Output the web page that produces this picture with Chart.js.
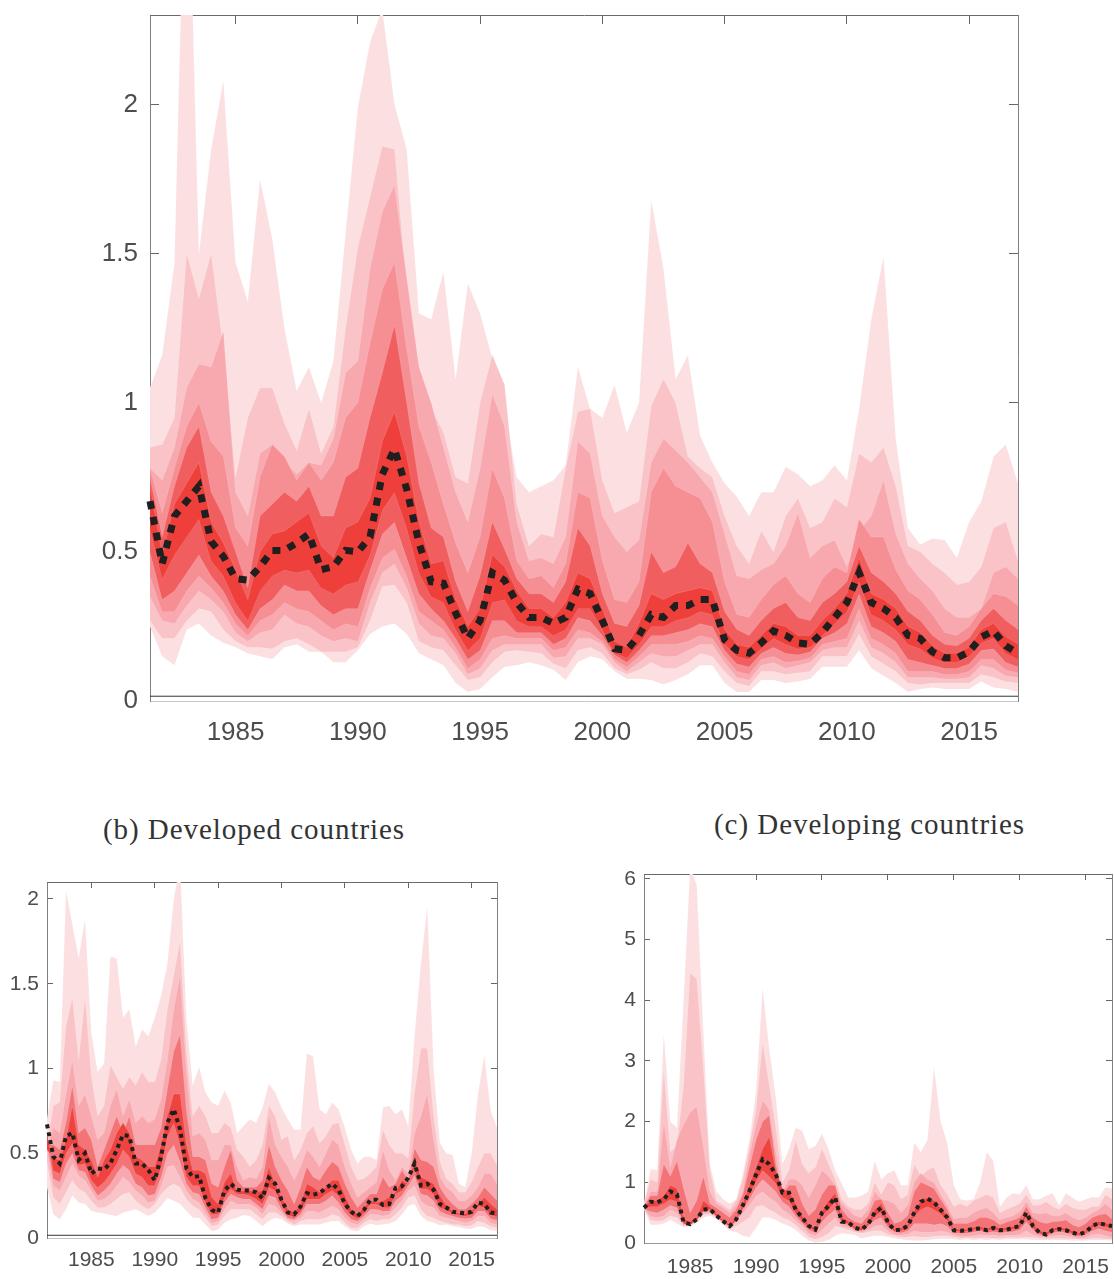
<!DOCTYPE html>
<html>
<head>
<meta charset="utf-8">
<title>Fan charts</title>
<script src="https://cdn.jsdelivr.net/npm/chart.js@4"></script>
<style>
  html, body { margin: 0; background: #fff; overflow: hidden; }
  canvas { position: absolute; }
  .caption { position: absolute; font-family: "Liberation Serif", serif; font-size: 29px; color: #333; letter-spacing: 0.95px; white-space: nowrap; }
</style>
</head>
<body>
<canvas id="mainChart" width="1114" height="770" style="left:0;top:0"></canvas>
<div class="caption" style="left:103px;top:813px">(b) Developed countries</div>
<div class="caption" style="left:714px;top:808px">(c) Developing countries</div>
<canvas id="developedChart" width="520" height="409" style="left:0;top:870px"></canvas>
<canvas id="developingChart" width="504" height="419" style="left:610px;top:860px"></canvas>
<script>
const years = [1981.5,1982,1982.5,1983,1983.5,1984,1984.5,1985,1985.5,1986,1986.5,1987,1987.5,1988,1988.5,1989,1989.5,1990,1990.5,1991,1991.5,1992,1992.5,1993,1993.5,1994,1994.5,1995,1995.5,1996,1996.5,1997,1997.5,1998,1998.5,1999,1999.5,2000,2000.5,2001,2001.5,2002,2002.5,2003,2003.5,2004,2004.5,2005,2005.5,2006,2006.5,2007,2007.5,2008,2008.5,2009,2009.5,2010,2010.5,2011,2011.5,2012,2012.5,2013,2013.5,2014,2014.5,2015,2015.5,2016,2016.5,2017];
const yearTicks = [1985,1990,1995,2000,2005,2010,2015];
const mainTicks = [0,0.5,1,1.5,2];
const developedTicks = [0,0.5,1,1.5,2];
const developingTicks = [0,1,2,3,4,5,6];

// panel (a)
const mainMedian = [.67,.46,.62,.67,.72,.535,.485,.41,.405,.45,.505,.505,.53,.56,.44,.45,.505,.50,.55,.76,.845,.71,.53,.40,.395,.295,.21,.27,.43,.405,.33,.28,.28,.26,.28,.375,.36,.27,.175,.17,.22,.29,.28,.32,.32,.34,.34,.205,.17,.16,.195,.235,.22,.195,.19,.23,.28,.33,.43,.33,.31,.28,.22,.21,.165,.145,.145,.165,.215,.235,.185,.16];
const mainU1 = [1.05,1.16,1.47,3.1,1.5,1.85,2.08,1.47,1.34,1.75,1.55,1.25,1.04,1.12,1.00,1.14,1.57,1.99,2.21,2.32,2.0,1.85,1.30,1.28,1.44,1.08,1.40,1.30,1.15,.98,.75,.70,.72,.74,.79,1.12,.98,.95,1.06,.90,1.0,1.68,1.45,1.08,1.16,.89,.80,.73,.685,.62,.70,.70,.785,.76,.72,.74,.79,.74,.98,1.28,1.49,.88,.58,.525,.545,.54,.48,.60,.67,.82,.86,.73];
const mainU2 = [.85,.86,.95,1.5,1.35,1.50,1.18,.75,.95,1.05,1.05,.93,.84,.98,.83,.92,1.25,1.52,1.69,1.86,1.85,1.38,1.12,.98,.90,.75,.73,1.0,1.16,1.06,.66,.52,.56,.55,.78,.97,.98,.74,.63,.65,.67,.99,1.08,1.0,.82,.78,.75,.62,.52,.46,.57,.5,.62,.68,.58,.6,.68,.65,.83,.8,.85,.72,.52,.50,.46,.43,.39,.40,.45,.58,.60,.47];
const mainU3 = [.78,.74,.85,1.05,1.13,1.12,1.24,.7,.62,.83,.86,.8,.76,.80,.79,.88,1.1,1.14,1.45,1.64,1.73,1.42,1.12,1.0,.85,.7,.6,.78,1.03,.92,.60,.47,.48,.46,.55,.87,.83,.62,.55,.50,.54,.80,.88,.84,.80,.75,.70,.56,.42,.41,.44,.46,.52,.63,.48,.52,.54,.45,.57,.62,.74,.56,.46,.41,.37,.31,.28,.28,.31,.43,.45,.41];
const mainU4 = [.78,.63,.78,.92,1.0,.87,.82,.58,.52,.75,.86,.82,.74,.80,.74,.8,.95,1.0,1.2,1.38,1.47,1.18,.92,.8,.66,.53,.43,.55,.78,.68,.47,.41,.42,.38,.46,.70,.68,.47,.34,.33,.40,.70,.78,.72,.70,.68,.60,.40,.29,.28,.34,.39,.42,.36,.33,.41,.45,.43,.61,.55,.55,.44,.37,.34,.29,.23,.22,.25,.31,.36,.35,.32];
const mainU5 = [.75,.55,.72,.85,.92,.70,.62,.50,.38,.62,.66,.70,.67,.72,.62,.62,.75,.78,.95,1.10,1.26,1.0,.73,.58,.55,.40,.30,.42,.60,.51,.41,.36,.36,.33,.40,.58,.52,.36,.26,.25,.32,.50,.43,.45,.53,.46,.43,.30,.24,.22,.27,.31,.33,.28,.27,.33,.36,.40,.52,.43,.40,.36,.30,.27,.22,.19,.185,.21,.27,.31,.27,.24];
const mainU6 = [.72,.49,.66,.73,.80,.60,.53,.44,.34,.50,.56,.57,.60,.63,.52,.48,.58,.60,.68,.87,.97,.82,.60,.46,.47,.34,.25,.31,.49,.45,.37,.31,.31,.28,.33,.43,.41,.31,.20,.18,.26,.36,.34,.36,.37,.38,.37,.24,.19,.18,.22,.26,.25,.22,.22,.27,.31,.36,.48,.36,.34,.31,.25,.23,.185,.16,.16,.18,.24,.26,.215,.19];
const mainL6 = [.58,.41,.49,.55,.61,.47,.42,.33,.27,.37,.42,.44,.43,.44,.38,.36,.39,.40,.49,.64,.70,.58,.43,.35,.33,.24,.17,.21,.33,.34,.27,.25,.25,.22,.24,.31,.31,.24,.16,.145,.19,.25,.25,.27,.28,.30,.29,.19,.15,.14,.175,.21,.19,.175,.18,.22,.26,.30,.40,.29,.27,.24,.19,.175,.145,.13,.13,.15,.195,.21,.16,.14];
const mainL5 = [.50,.34,.37,.43,.49,.42,.37,.29,.24,.31,.34,.39,.37,.37,.32,.29,.31,.31,.44,.56,.60,.48,.36,.31,.27,.21,.14,.17,.27,.27,.23,.23,.23,.19,.21,.28,.27,.22,.155,.13,.17,.22,.22,.23,.24,.26,.25,.17,.125,.115,.16,.18,.16,.155,.165,.21,.23,.26,.36,.25,.23,.20,.14,.13,.12,.11,.11,.125,.17,.175,.13,.115];
const mainL4 = [.42,.3,.3,.37,.42,.38,.33,.26,.22,.27,.29,.33,.31,.30,.27,.24,.26,.25,.38,.48,.51,.42,.30,.27,.24,.18,.11,.14,.21,.22,.21,.21,.21,.17,.18,.24,.23,.20,.14,.115,.15,.19,.19,.19,.20,.22,.21,.15,.10,.09,.14,.15,.13,.135,.145,.19,.2,.21,.31,.21,.19,.16,.10,.10,.10,.09,.09,.10,.14,.14,.105,.095];
const mainL3 = [.35,.27,.26,.32,.37,.34,.30,.23,.2,.23,.24,.29,.26,.25,.22,.2,.21,.2,.33,.43,.46,.38,.26,.22,.21,.16,.09,.11,.17,.19,.19,.19,.19,.145,.15,.21,.21,.19,.13,.10,.13,.16,.15,.15,.17,.19,.19,.13,.08,.07,.12,.13,.11,.12,.13,.17,.18,.18,.27,.18,.16,.13,.08,.08,.08,.075,.075,.08,.12,.11,.085,.08];
const mainL2 = [.27,.21,.21,.27,.31,.30,.24,.20,.18,.18,.175,.2,.21,.19,.165,.165,.165,.18,.27,.385,.39,.33,.2,.18,.17,.12,.07,.08,.13,.165,.17,.165,.16,.125,.11,.17,.18,.16,.11,.09,.105,.13,.11,.11,.13,.16,.15,.10,.06,.05,.10,.10,.09,.095,.10,.15,.15,.15,.225,.15,.125,.10,.06,.055,.06,.06,.06,.06,.09,.08,.065,.06];
const mainL1 = [.25,.15,.12,.24,.26,.22,.195,.18,.16,.15,.14,.18,.19,.165,.165,.13,.13,.17,.225,.25,.26,.225,.16,.14,.12,.06,.03,.04,.08,.115,.12,.13,.12,.105,.07,.13,.15,.14,.10,.075,.075,.07,.055,.07,.09,.12,.12,.06,.03,.03,.07,.07,.06,.065,.075,.115,.115,.115,.17,.11,.085,.06,.03,.04,.045,.04,.04,.04,.065,.045,.04,.03];

// panel (b)
const developedMedian = [.67,.48,.44,.6,.62,.46,.5,.38,.41,.405,.44,.52,.61,.6,.44,.44,.4,.34,.48,.68,.76,.64,.41,.36,.365,.235,.165,.15,.28,.32,.285,.28,.28,.27,.235,.355,.32,.225,.15,.14,.185,.265,.255,.265,.295,.32,.285,.2,.155,.13,.165,.225,.225,.195,.2,.295,.305,.355,.44,.31,.32,.285,.2,.18,.155,.15,.145,.155,.21,.2,.15,.145];
const developedU1 = [.7,.93,.92,2.05,1.85,1.65,1.88,1.21,.98,1.03,1.66,1.65,1.30,1.35,1.13,1.23,1.19,1.30,1.43,1.62,2.0,2.2,1.29,.9,1.01,.86,.80,.78,.87,.80,.62,.66,.70,.68,.77,.91,.86,.77,.7,.64,.64,1.09,1.07,.76,.73,.80,.76,.65,.52,.44,.48,.48,.46,.77,.78,.73,.76,.66,1.2,1.62,1.96,1.0,.56,.5,.49,.32,.30,.5,.85,1.08,.75,.65];
const developedU2 = [.55,.78,.8,1.25,1.42,1.05,1.42,.95,.72,.78,1.02,.95,.88,.95,.9,.98,.92,.92,1.05,1.35,1.55,1.75,1.1,.72,.78,.72,.62,.62,.68,.65,.52,.48,.42,.46,.55,.78,.72,.58,.6,.46,.52,.62,.66,.56,.6,.67,.68,.55,.42,.34,.35,.38,.42,.64,.55,.5,.5,.47,.86,1.12,1.12,.72,.45,.35,.32,.27,.27,.33,.42,.5,.5,.43];
const developedU3 = [.55,.65,.62,.85,1.05,.78,.85,.72,.58,.62,.78,.88,.72,.82,.68,.72,.68,.7,.82,1.05,1.35,1.55,.98,.6,.62,.58,.46,.46,.55,.55,.42,.34,.36,.35,.42,.72,.55,.48,.42,.34,.42,.52,.48,.42,.5,.58,.55,.42,.32,.24,.27,.3,.33,.52,.4,.34,.42,.38,.62,.72,.85,.58,.36,.3,.27,.22,.22,.25,.3,.38,.38,.32];
const developedU4 = [.55,.55,.52,.68,.9,.62,.65,.58,.42,.52,.62,.72,.62,.72,.55,.55,.55,.55,.65,.88,1.1,1.2,.75,.48,.48,.46,.32,.3,.42,.52,.34,.3,.3,.3,.34,.55,.42,.34,.28,.2,.3,.42,.36,.34,.4,.45,.42,.32,.24,.18,.22,.26,.26,.36,.3,.32,.4,.34,.53,.46,.45,.42,.3,.24,.2,.17,.17,.2,.24,.3,.26,.22];
const developedU5 = [.52,.47,.46,.58,.78,.55,.52,.46,.36,.46,.52,.62,.68,.62,.48,.46,.42,.42,.55,.72,.85,.85,.55,.4,.4,.38,.24,.2,.33,.38,.27,.28,.28,.27,.28,.42,.32,.24,.17,.15,.2,.32,.3,.27,.3,.34,.34,.25,.17,.14,.18,.22,.21,.22,.24,.27,.34,.32,.46,.36,.34,.32,.25,.19,.16,.145,.145,.16,.2,.24,.2,.17];
const developedL5 = [.62,.4,.38,.5,.56,.43,.44,.34,.3,.33,.38,.44,.52,.48,.38,.36,.31,.31,.42,.6,.68,.55,.36,.31,.31,.21,.14,.14,.24,.29,.26,.26,.25,.23,.2,.3,.28,.2,.135,.125,.16,.23,.23,.23,.26,.28,.25,.18,.135,.115,.15,.2,.2,.18,.18,.26,.28,.33,.41,.29,.29,.26,.18,.165,.145,.135,.13,.14,.19,.18,.135,.125];
const developedL4 = [.58,.35,.33,.44,.5,.4,.39,.31,.25,.28,.32,.38,.43,.4,.32,.3,.25,.26,.36,.5,.55,.45,.32,.27,.26,.18,.11,.12,.21,.26,.24,.23,.23,.2,.17,.25,.24,.17,.12,.11,.14,.2,.2,.2,.22,.25,.21,.15,.11,.1,.13,.17,.17,.16,.16,.22,.25,.31,.37,.26,.25,.22,.16,.14,.13,.12,.115,.12,.16,.16,.115,.105];
const developedL3 = [.52,.31,.28,.36,.44,.37,.34,.28,.22,.23,.26,.31,.36,.33,.28,.25,.21,.22,.31,.42,.43,.36,.28,.23,.21,.15,.09,.1,.17,.22,.2,.2,.2,.18,.14,.2,.19,.15,.11,.1,.12,.16,.16,.15,.17,.19,.17,.12,.09,.08,.11,.14,.14,.13,.14,.18,.22,.28,.31,.22,.19,.18,.13,.12,.11,.1,.09,.1,.13,.13,.09,.08];
const developedL2 = [.45,.24,.2,.27,.34,.29,.27,.22,.18,.18,.2,.23,.26,.27,.22,.19,.17,.2,.26,.3,.32,.3,.23,.19,.17,.12,.07,.08,.13,.17,.17,.17,.17,.14,.11,.15,.15,.13,.1,.08,.1,.11,.11,.11,.12,.14,.13,.09,.06,.06,.09,.11,.1,.11,.11,.14,.18,.24,.25,.17,.13,.12,.1,.09,.08,.08,.07,.075,.1,.09,.07,.06];
const developedL1 = [.3,.14,.11,.17,.25,.21,.2,.16,.15,.145,.135,.13,.15,.16,.17,.15,.13,.15,.19,.235,.22,.2,.16,.12,.12,.08,.04,.05,.09,.11,.12,.135,.13,.1,.07,.1,.12,.11,.085,.07,.08,.08,.08,.08,.09,.1,.1,.07,.045,.04,.07,.085,.075,.08,.085,.1,.14,.19,.2,.13,.1,.09,.075,.08,.07,.065,.055,.055,.07,.065,.045,.04];

// panel (c)
const developingMedian = [.58,.68,.67,.72,.85,.8,.34,.31,.39,.55,.56,.45,.36,.28,.39,.62,.86,1.13,1.38,1.3,1.13,.83,.83,.55,.42,.28,.22,.5,.61,.75,.35,.34,.25,.22,.31,.5,.58,.34,.21,.22,.28,.5,.68,.73,.67,.55,.42,.21,.2,.21,.23,.24,.21,.25,.21,.22,.25,.28,.5,.28,.17,.14,.21,.23,.21,.17,.14,.18,.28,.33,.3,.28];
const developingU1 = [.65,1.22,1.2,3.46,2.0,1.9,4.0,6.2,5.9,3.5,1.3,.85,.72,.65,.72,1.15,1.7,2.5,4.2,3.2,2.4,1.3,1.55,1.9,1.85,1.55,1.6,1.8,1.55,1.2,.98,.75,.75,.78,.85,1.35,1.05,1.15,1.2,.95,.95,1.65,1.5,1.7,2.9,2.0,1.65,.95,.72,.7,.72,1.0,1.5,1.35,.6,.75,.82,.8,.95,.72,.72,.78,.82,.62,.82,.75,.68,.72,.76,.75,.92,.9];
const developingU2 = [.65,1.05,1.0,2.85,1.5,1.6,2.6,4.45,4.35,2.9,1.2,.7,.62,.55,.7,1.05,1.6,2.2,3.3,2.6,1.9,1.0,1.2,1.7,1.3,1.15,1.25,1.55,1.3,1.05,.72,.6,.55,.55,.65,1.0,.8,1.0,.95,.72,.8,1.3,1.1,1.2,1.25,.95,.8,.6,.65,.6,.7,.75,.8,.75,.5,.55,.6,.65,.8,.62,.62,.68,.6,.55,.65,.58,.55,.55,.6,.6,.8,.72];
const developingU3 = [.62,.85,.85,2.0,1.25,1.7,1.95,2.15,2.25,1.6,.85,.65,.58,.5,.62,.85,1.45,1.95,2.35,2.2,1.5,.85,1.05,1.05,.95,.75,.95,1.2,1.1,.95,.65,.55,.45,.42,.55,.85,.72,.7,.65,.5,.62,1.0,1.15,1.05,1.0,.8,.62,.4,.42,.42,.5,.55,.58,.5,.38,.42,.45,.52,.68,.5,.48,.5,.45,.45,.5,.42,.38,.42,.5,.55,.65,.55];
const developingU4 = [.6,.78,.78,1.3,1.1,1.35,.9,.5,.7,1.1,.65,.58,.5,.42,.55,.8,1.25,1.7,2.0,2.1,1.3,.8,.95,.95,.65,.45,.55,.8,.95,.95,.55,.42,.35,.32,.45,.7,.72,.5,.32,.36,.45,.85,1.0,.95,.9,.72,.55,.32,.32,.32,.36,.42,.42,.38,.3,.34,.38,.42,.6,.42,.35,.32,.35,.36,.38,.3,.26,.32,.42,.46,.48,.4];
const developingU5 = [.59,.7,.7,.78,.95,.9,.4,.35,.42,.7,.6,.48,.38,.3,.42,.65,.95,1.25,1.55,1.75,1.2,.9,.85,.65,.45,.3,.25,.52,.7,.82,.42,.36,.27,.25,.33,.55,.65,.38,.23,.25,.3,.53,.7,.75,.7,.58,.45,.24,.22,.23,.26,.27,.24,.28,.24,.25,.27,.31,.52,.31,.2,.17,.24,.26,.24,.2,.16,.2,.3,.36,.33,.3];
const developingL5 = [.57,.6,.6,.65,.72,.68,.32,.3,.38,.53,.55,.44,.35,.27,.38,.58,.8,1.02,1.2,1.1,.98,.76,.7,.5,.38,.26,.2,.45,.55,.68,.34,.32,.24,.21,.3,.45,.52,.3,.2,.2,.25,.45,.55,.6,.55,.48,.38,.2,.19,.2,.22,.23,.2,.23,.2,.21,.23,.26,.44,.26,.16,.13,.2,.22,.2,.16,.13,.17,.26,.3,.27,.25];
const developingL4 = [.57,.52,.5,.55,.62,.58,.32,.3,.38,.52,.53,.44,.34,.27,.36,.55,.72,.92,1.05,.95,.85,.68,.6,.45,.33,.22,.17,.35,.46,.55,.32,.3,.22,.2,.27,.38,.42,.26,.18,.17,.2,.32,.32,.32,.3,.32,.28,.17,.16,.16,.18,.2,.17,.19,.17,.18,.19,.22,.35,.22,.14,.12,.17,.19,.17,.14,.11,.14,.2,.24,.2,.18];
const developingL3 = [.56,.44,.42,.45,.55,.5,.3,.29,.38,.5,.5,.43,.33,.25,.34,.5,.62,.78,.85,.75,.68,.55,.48,.38,.28,.16,.12,.22,.32,.42,.28,.26,.2,.18,.22,.28,.3,.2,.14,.13,.15,.2,.18,.18,.18,.2,.18,.13,.11,.11,.12,.14,.13,.13,.12,.13,.13,.14,.2,.14,.11,.1,.12,.13,.12,.1,.08,.09,.14,.15,.12,.1];
const developingL2 = [.56,.38,.36,.38,.45,.42,.28,.28,.36,.46,.48,.42,.32,.23,.28,.35,.42,.6,.62,.55,.5,.42,.38,.3,.2,.1,.06,.1,.16,.28,.25,.22,.18,.16,.18,.2,.2,.14,.12,.1,.1,.11,.1,.1,.11,.12,.12,.1,.08,.09,.08,.09,.09,.08,.08,.09,.09,.09,.1,.09,.08,.07,.08,.08,.07,.07,.06,.06,.08,.08,.07,.06];
const developingL1 = [.55,.3,.3,.32,.38,.32,.26,.27,.33,.42,.45,.4,.3,.2,.18,.12,.1,.25,.42,.42,.38,.32,.28,.22,.12,.04,.01,.02,.05,.12,.16,.15,.13,.08,.1,.12,.12,.1,.08,.06,.05,.04,.04,.05,.06,.07,.07,.06,.05,.06,.05,.06,.05,.06,.05,.06,.06,.06,.06,.05,.05,.05,.05,.05,.05,.04,.04,.04,.05,.05,.05,.04];

const zeroLine = [0.016, 0.016];
const zeroLineYears = [1981.5, 2017];

const mainColors = ["#fce0e1", "#f9c3c7", "#f8a9af", "#f58f94", "#f15e60", "#ef3f3a"];
const panelColors = ["#fce0e1", "#f9c3c7", "#f8a9af", "#f37376", "#ef4340"];

function toPoints(values, xs = years) {
  return values.map((y, i) => ({ x: xs[i], y: y }));
}

function tickList(list) {
  return scale => { scale.ticks = list.map(value => ({ value: value })); };
}

function drawFan(id, cfg) {
  const datasets = [];
  datasets.push({
    data: toPoints(cfg.median), borderColor: "#1f1f1f", borderWidth: cfg.lineWidth,
    borderDash: cfg.dash, pointRadius: 0, fill: false, clip: false
  });
  if (cfg.baseline) {
    datasets.push({
      data: toPoints(zeroLine, zeroLineYears), borderColor: "#333", borderWidth: 1,
      pointRadius: 0, fill: false
    });
  }
  // innermost band first, Chart.js paints the first dataset on top
  for (let i = cfg.colors.length - 1; i >= 0; i--) {
    datasets.push({
      data: toPoints(cfg.upper[i]), backgroundColor: cfg.colors[i], borderColor: "rgba(255,255,255,0.25)",
      borderWidth: 0.5, pointRadius: 0, fill: "+1"
    });
    datasets.push({
      data: toPoints(cfg.lower[i]), borderColor: "rgba(255,255,255,0.25)",
      borderWidth: 0.5, pointRadius: 0, fill: false
    });
  }

  const font = { family: '"Liberation Sans", Arial, sans-serif', size: cfg.fontSize };
  const grid = { drawOnChartArea: false, color: "#666", tickColor: "#666", tickLength: -cfg.tick };
  // ticks sit well inside the frame, so the labels need no extra room around the plot
  const noPadding = s => { s.paddingTop = s.paddingBottom = s.paddingLeft = s.paddingRight = 0; };

  new Chart(document.getElementById(id), {
    type: "line",
    data: { datasets: datasets },
    options: {
      responsive: false,
      animation: false,
      layout: { padding: cfg.padding },
      plugins: { legend: { display: false }, tooltip: { enabled: false } },
      scales: {
        x: {
          type: "linear", min: 1981.5, max: 2017,
          afterBuildTicks: tickList(yearTicks),
          afterFit: s => { s.height = cfg.xHeight; noPadding(s); },
          grid: { drawOnChartArea: false, drawTicks: false },
          border: { color: cfg.bottomColor, width: cfg.bottomWidth },
          ticks: { font: font, color: "#4d4d4d", padding: cfg.xPad, maxRotation: 0, autoSkip: false, callback: v => String(v) }
        },
        y: {
          type: "linear", min: 0, max: cfg.yMax,
          afterBuildTicks: tickList(cfg.yTicks),
          afterFit: s => { s.width = cfg.yWidth; noPadding(s); },
          grid: grid,
          border: { color: "#808080", width: 1 },
          ticks: { font: font, color: "#4d4d4d", padding: cfg.yPad, autoSkip: false, callback: v => String(v) }
        },
        xTop: {
          type: "linear", position: "top", min: 1981.5, max: 2017,
          afterBuildTicks: tickList(yearTicks),
          afterFit: s => { s.height = 0; noPadding(s); },
          grid: grid,
          border: { color: "#6a6a6a", width: 1 },
          ticks: { display: false, autoSkip: false }
        },
        yRight: {
          type: "linear", position: "right", min: 0, max: cfg.yMax,
          afterBuildTicks: tickList(cfg.yTicks),
          afterFit: s => { s.width = 0; noPadding(s); },
          grid: grid,
          border: { color: "#808080", width: 1 },
          ticks: { display: false, autoSkip: false }
        }
      }
    }
  });
}

drawFan("mainChart", {
  median: mainMedian,
  upper: [mainU1, mainU2, mainU3, mainU4, mainU5, mainU6],
  lower: [mainL1, mainL2, mainL3, mainL4, mainL5, mainL6],
  colors: mainColors, baseline: true, yMax: 2.3, yTicks: mainTicks,
  padding: { top: 15, right: 96, left: 0, bottom: 0 },
  yWidth: 150, xHeight: 69, fontSize: 26, tick: 9, xPad: 16, yPad: 21,
  lineWidth: 7, dash: [8, 8], bottomColor: "#c8c8c8", bottomWidth: 1
});

drawFan("developedChart", {
  median: developedMedian,
  upper: [developedU1, developedU2, developedU3, developedU4, developedU5],
  lower: [developedL1, developedL2, developedL3, developedL4, developedL5],
  colors: panelColors, baseline: true, yMax: 2.1, yTicks: developedTicks,
  padding: { top: 12, right: 23, left: 0, bottom: 0 },
  yWidth: 47, xHeight: 41, fontSize: 21, tick: 6, xPad: 10, yPad: 14,
  lineWidth: 4, dash: [4, 4], bottomColor: "#c0c0c0", bottomWidth: 1
});

drawFan("developingChart", {
  median: developingMedian,
  upper: [developingU1, developingU2, developingU3, developingU4, developingU5],
  lower: [developingL1, developingL2, developingL3, developingL4, developingL5],
  colors: panelColors, baseline: false, yMax: 6.08, yTicks: developingTicks,
  padding: { top: 14, right: 2, left: 0, bottom: 0 },
  yWidth: 34, xHeight: 36, fontSize: 21, tick: 6, xPad: 12, yPad: 14,
  lineWidth: 4, dash: [4, 4], bottomColor: "#999", bottomWidth: 1
});
</script>
</body>
</html>
